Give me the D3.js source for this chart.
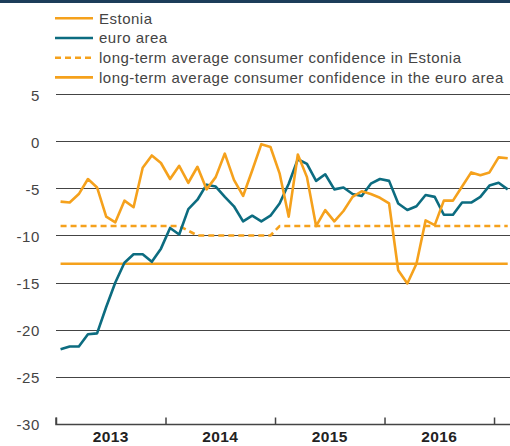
<!DOCTYPE html>
<html>
<head>
<meta charset="utf-8">
<script src="https://cdnjs.cloudflare.com/ajax/libs/d3/7.8.5/d3.min.js"></script>
<style>
  body { margin: 0; background: #fff; }
  svg { display: block; font-family: 'Liberation Sans', Arial, sans-serif; }
</style>
</head>
<body>
<svg id="chart"></svg>
<script>
// monthly data, Jan 2013 .. Feb 2017
const years = ['2013', '2014', '2015', '2016'];
const estonia = [
  -6.4, -6.5, -5.6, -4.0, -4.9, -8.0, -8.6, -6.3, -7.0, -2.8, -1.5, -2.3,
  -4.0, -2.6, -4.4, -2.7, -5.1, -3.8, -1.3, -4.1, -5.8, -3.1, -0.3, -0.6,
  -3.4, -8.0, -1.4, -3.8, -9.0, -7.3, -8.5, -7.4, -5.9, -5.3, -5.6, -6.0,
  -6.6, -13.7, -15.1, -13.0, -8.4, -8.9, -6.3, -6.3, -4.8, -3.3, -3.6, -3.3,
  -1.7, -1.8
];
const euroArea = [
  -22.1, -21.8, -21.8, -20.5, -20.4, -17.6, -15.0, -12.9, -12.0, -12.0, -12.8, -11.4,
  -9.2, -9.9, -7.2, -6.2, -4.6, -4.8, -5.9, -6.9, -8.5, -7.9, -8.5, -7.9,
  -6.6, -4.5, -1.9, -2.4, -4.2, -3.5, -5.1, -4.9, -5.6, -5.8, -4.5, -4.0,
  -4.2, -6.6, -7.3, -6.9, -5.7, -5.9, -7.8, -7.8, -6.5, -6.5, -5.9, -4.7,
  -4.4, -5.1
];
const estoniaAvg = [
  -9, -9, -9, -9, -9, -9, -9, -9, -9, -9, -9, -9,
  -9, -9, -9.5, -10, -10, -10, -10, -10, -10, -10, -10, -10,
  -9, -9, -9, -9, -9, -9, -9, -9, -9, -9, -9, -9,
  -9, -9, -9, -9, -9, -9, -9, -9, -9, -9, -9, -9,
  -9, -9
];
const euroAvg = euroArea.map(() => -13);
const yTicks = [5, 0, -5, -10, -15, -20, -25, -30];
const legendItems = [
  'Estonia',
  'euro area',
  'long-term average consumer confidence in Estonia',
  'long-term average consumer confidence in the euro area'
];

const width = 510;
const height = 446;
const orange = '#f5a11c';
const teal = '#0c6c80';

const svg = d3.select('#chart')
  .attr('width', width)
  .attr('height', height);

// dark rule at the very top
svg.append('rect')
  .attr('x', 0)
  .attr('y', 0)
  .attr('width', width)
  .attr('height', 3)
  .attr('fill', '#1c3d5a');

const xScale = d3.scaleLinear()
  .domain([0, 49.75])
  .range([56, 510]);

const yScale = d3.scaleLinear()
  .domain([-30, 5])
  .range([423.7, 94.3]);

// grid lines
svg.append('g')
  .selectAll('line')
  .data(yTicks.filter(d => d > -30))
  .enter()
  .append('line')
  .attr('x1', 56)
  .attr('x2', width)
  .attr('y1', d => Math.round(yScale(d)) + 0.5)
  .attr('y2', d => Math.round(yScale(d)) + 0.5)
  .attr('stroke', '#444')
  .attr('stroke-width', 1);

// y labels
svg.append('g')
  .selectAll('text')
  .data(yTicks)
  .enter()
  .append('text')
  .attr('x', 40)
  .attr('y', d => yScale(d))
  .attr('dy', '0.45em')
  .attr('text-anchor', 'end')
  .attr('font-size', 15)
  .attr('letter-spacing', 0.6)
  .attr('fill', '#444')
  .text(d => d);

// x axis
const xAxis = d3.axisBottom(xScale)
  .tickValues([0, 12, 24, 36, 48])
  .tickSize(-7)
  .tickFormat('');

const axisG = svg.append('g')
  .attr('transform', `translate(0, ${Math.round(yScale(-30)) + 0.5})`)
  .call(xAxis);
axisG.select('.domain')
  .attr('d', `M56,-7V0H${width}`)
  .attr('stroke', '#444')
  .attr('stroke-width', 1.5);
axisG.selectAll('.tick line')
  .attr('stroke', '#444')
  .attr('stroke-width', 1.5);

svg.append('g')
  .selectAll('text')
  .data(years)
  .enter()
  .append('text')
  .attr('x', (d, i) => xScale(i * 12 + 6))
  .attr('y', 442)
  .attr('text-anchor', 'middle')
  .attr('font-size', 15.5)
  .attr('letter-spacing', 0.4)
  .attr('font-weight', 'bold')
  .attr('fill', '#222')
  .text(d => d);

const line = d3.line()
  .x((d, i) => xScale(i + 0.5))
  .y(d => yScale(d));

const series = [
  { values: euroAvg, color: orange, dash: null },
  { values: estoniaAvg, color: orange, dash: '6,4' },
  { values: euroArea, color: teal, dash: null },
  { values: estonia, color: orange, dash: null }
];

svg.append('g')
  .selectAll('path')
  .data(series)
  .enter()
  .append('path')
  .attr('fill', 'none')
  .attr('stroke', d => d.color)
  .attr('stroke-width', 2.6)
  .attr('stroke-linejoin', 'round')
  .attr('stroke-dasharray', d => d.dash)
  .attr('d', d => line(d.values));

// legend
const legendStyles = [
  { color: orange, dash: null },
  { color: teal, dash: null },
  { color: orange, dash: '6,4' },
  { color: orange, dash: null }
];

const legend = svg.append('g')
  .selectAll('g')
  .data(legendItems)
  .enter()
  .append('g')
  .attr('transform', (d, i) => `translate(0, ${18.3 + i * 19.7})`);

legend.append('line')
  .attr('x1', 55)
  .attr('x2', 93)
  .attr('stroke', (d, i) => legendStyles[i].color)
  .attr('stroke-dasharray', (d, i) => legendStyles[i].dash)
  .attr('stroke-width', 2.6);

legend.append('text')
  .attr('x', 99)
  .attr('dy', '0.36em')
  .attr('font-size', 15)
  .attr('letter-spacing', 0.5)
  .attr('fill', '#444')
  .text(d => d);
</script>
</body>
</html>
